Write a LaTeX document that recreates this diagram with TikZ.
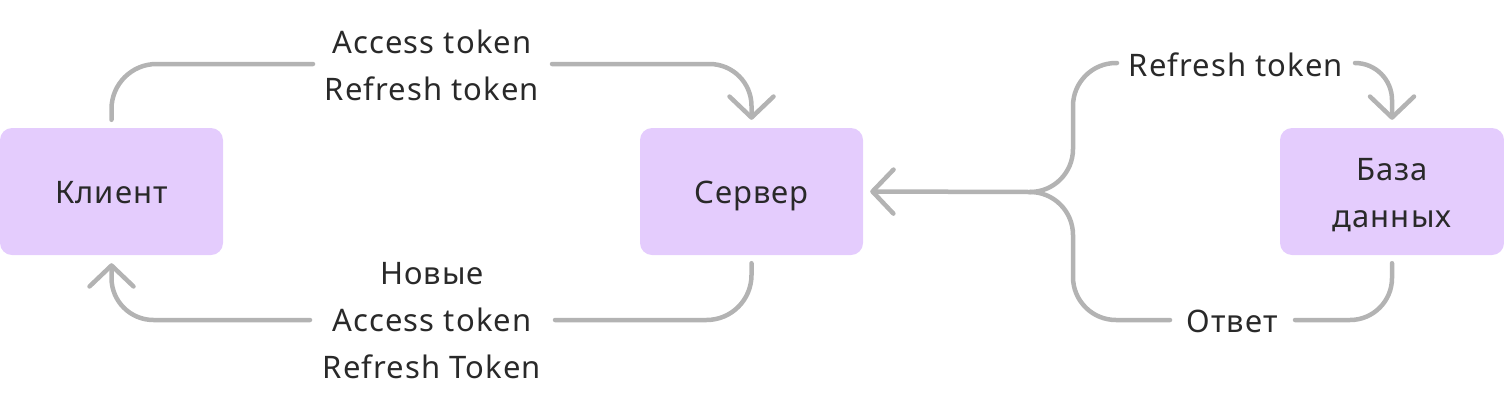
\documentclass[tikz,border=0pt]{standalone}
\usepackage{fontspec}
\setmainfont{Noto Sans}[LetterSpace=3.5]
\usetikzlibrary{arrows.meta}
\definecolor{boxfill}{HTML}{E4CCFD}
\definecolor{linegray}{HTML}{B3B3B3}
\definecolor{txt}{HTML}{292929}
\begin{document}
\begin{tikzpicture}[x=1pt,y=-1pt,
  box/.style={draw=none, fill=boxfill, rounded corners=12pt, minimum width=223pt, minimum height=127pt, inner sep=0pt, text=txt, align=center, font=\fontsize{31}{47}\selectfont, text height=24pt, text depth=0pt},
  lbl/.style={text=txt, align=center, inner sep=0pt, font=\fontsize{31}{47}\selectfont},
  conn/.style={draw=linegray, line width=4.5pt, line cap=round, line join=round},
  tip/.style={-{Straight Barb[length=21pt,width=44pt,line cap=round,line join=round]}}
]
\useasboundingbox (0,0) rectangle (1504,408);
\node[box] (klient) at (111.5,191.5) {Клиент};
\node[box] (server) at (751.5,191.5) {Сервер};
\node[box, minimum width=224pt, text height=72pt, text depth=0pt] (db) at (1392,191.5) {База\\данных};
\node[lbl] (l1) at (432,65.5) {Access token\\Refresh token};
\node[lbl] (l2) at (432,321) {Новые\\Access token\\Refresh Token};
\node[lbl] (l3) at (1236,65) {Refresh token};
\node[lbl] (l4) at (1232,321) {Ответ};
\coordinate (a1) at (313,64);
\coordinate (a2) at (552,64);
\coordinate (b1) at (555,320);
\coordinate (b2) at (310,320);
\coordinate (j) at (1030,192);
\coordinate (ju) at (1073,63);
\coordinate (jd) at (1073,320);
\coordinate (c1) at (1117,63);
\coordinate (c2) at (1170,320);
\coordinate (d1) at (1355,63);
\coordinate (d2) at (1295,320);
\draw[conn, rounded corners=45pt] ([yshift=8pt]klient.north) |- (a1);
\draw[conn, tip, rounded corners=42pt] (a2) -| ([yshift=8pt]server.north);
\draw[conn, rounded corners=45pt] ([yshift=-8pt]server.south) |- (b1);
\draw[conn, tip, rounded corners=42pt] (b2) -| ([yshift=-8pt]klient.south);
\draw[conn, tip] (j) -- ([xshift=7pt]server.east);
\draw[conn, rounded corners=43pt] (j) -| (ju) -- (c1);
\draw[conn, rounded corners=43pt] (j) -| (jd) -- (c2);
\draw[conn, tip, rounded corners=37pt] (d1) -| ([yshift=8pt]db.north);
\draw[conn, rounded corners=42pt] ([yshift=-8pt]db.south) |- (d2);
\end{tikzpicture}
\end{document}
